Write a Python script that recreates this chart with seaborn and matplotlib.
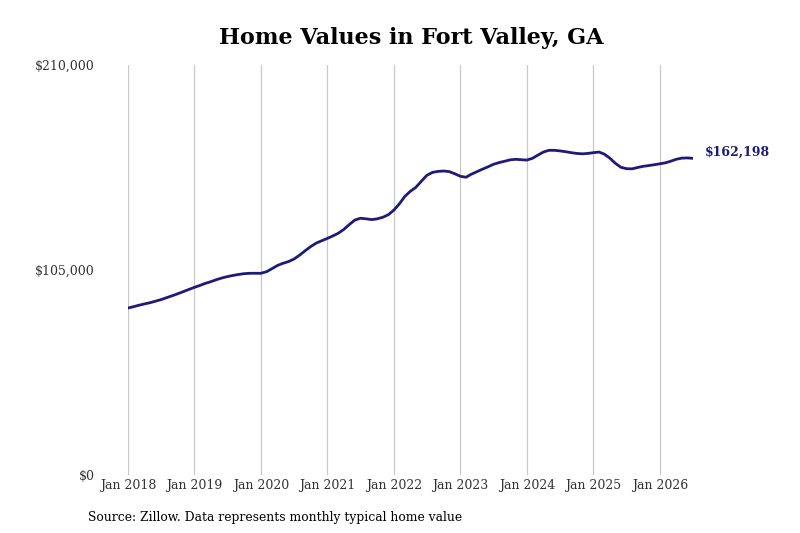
import pandas as pd
import seaborn as sns
import matplotlib.pyplot as plt
import matplotlib.dates as mdates
from matplotlib.ticker import FuncFormatter

# Monthly typical home value, Jan 2018 - Jul 2026
values_2018 = [85500, 86200, 86900, 87600, 88200, 89000, 89800, 90800, 91800, 92800, 93900, 95000]
values_2019 = [96100, 97100, 98100, 99000, 100000, 100900, 101600, 102200, 102700, 103100, 103300, 103300]
values_2020 = [103300, 104100, 105600, 107300, 108400, 109300, 110600, 112600, 114900, 117000, 118800, 120000]
values_2021 = [121200, 122500, 123800, 125800, 128300, 130600, 131500, 131200, 130800, 131200, 132000, 133300]
values_2022 = [135700, 139000, 142600, 145300, 147300, 150500, 153500, 155000, 155500, 155700, 155400, 154300]
values_2023 = [153000, 152500, 154000, 155300, 156600, 157800, 159100, 160000, 160700, 161400, 161700, 161500]
values_2024 = [161300, 162200, 163800, 165400, 166300, 166300, 166000, 165600, 165100, 164700, 164500, 164700]
values_2025 = [165100, 165400, 164400, 162300, 159700, 157600, 156900, 156800, 157500, 158100, 158500, 158900]
values_2026 = [159400, 159900, 160700, 161700, 162300, 162400, 162198]

values = (values_2018 + values_2019 + values_2020 + values_2021 + values_2022
          + values_2023 + values_2024 + values_2025 + values_2026)
dates = pd.date_range('2018-01-01', periods=len(values), freq='MS')
df = pd.DataFrame({'date': dates, 'value': values})

y_ticks = [0, 105000, 210000]
x_tick_years = list(range(2018, 2027))

sns.set_theme(style='white')
plt.rcParams['font.family'] = ['DejaVu Serif']

fig = plt.figure(figsize=(8, 5.33), dpi=100)
ax = fig.add_axes([0.16, 0.109, 0.706, 0.769])

line_color = '#1e1a78'
sns.lineplot(data=df, x='date', y='value', ax=ax, color=line_color, linewidth=2.0)

ax.set_ylim(0, 210000)
ax.set_xlim(dates[0], dates[-1])
ax.set_yticks(y_ticks)
ax.yaxis.set_major_formatter(FuncFormatter(lambda v, p: f'${v:,.0f}'))
ax.set_xticks([pd.Timestamp(f'{y}-01-01') for y in x_tick_years])
ax.xaxis.set_major_formatter(mdates.DateFormatter('Jan %Y'))

ax.grid(axis='x', color='#c8c8c8', linewidth=0.9)
ax.grid(axis='y', visible=False)
for s in ax.spines.values():
    s.set_visible(False)
ax.tick_params(axis='x', length=0, pad=3, labelsize=9, labelcolor='#333333')
ax.tick_params(axis='y', length=0, pad=24, labelsize=9, labelcolor='#333333')
ax.set_xlabel('')
ax.set_ylabel('')

ax.annotate(f'${values[-1]:,}', xy=(dates[-1], values[-1]), xytext=(9, 4),
            textcoords='offset points', color=line_color, fontsize=9,
            fontweight='bold', va='center', ha='left', annotation_clip=False)

fig.text(0.514, 0.928, 'Home Values in Fort Valley, GA', ha='center', va='center',
         fontsize=16, fontweight='bold', color='black')
fig.text(0.11, 0.03, 'Source: Zillow. Data represents monthly typical home value',
         ha='left', va='center', fontsize=8.9, color='black')

fig.savefig('out.png', dpi=100)
